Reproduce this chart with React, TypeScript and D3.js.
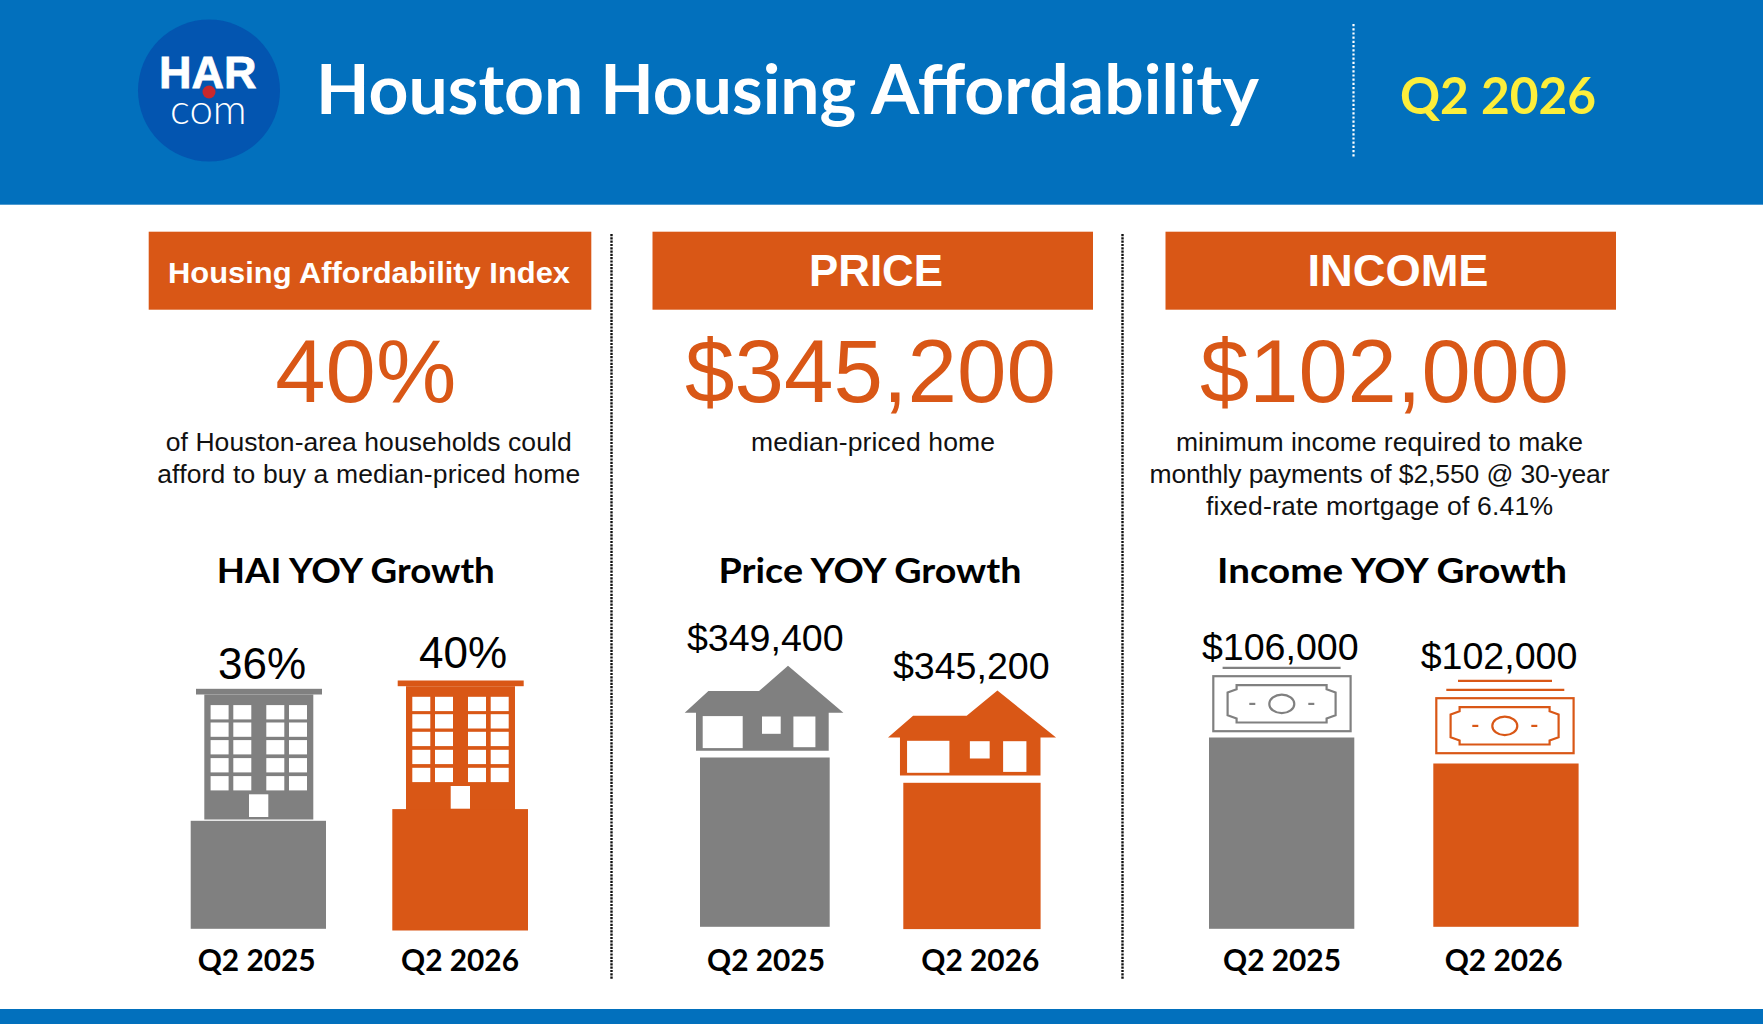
import React, { useEffect, useRef } from "react";
import * as d3 from "d3";

// values
const quarters = ["Q2 2025", "Q2 2026"];
const haiValues = [36, 40];
const priceValues = [349400, 345200];
const incomeValues = [106000, 102000];
const headlines = ["40%", "$345,200", "$102,000"];
const sectionHeads = ["Housing Affordability Index", "PRICE", "INCOME"];
const growthTitles = ["HAI YOY Growth", "Price YOY Growth", "Income YOY Growth"];
const blurbs = [
  ["of Houston-area households could", "afford to buy a median-priced home"],
  ["median-priced home"],
  [
    "minimum income required to make",
    "monthly payments of $2,550 @ 30-year",
    "fixed-rate mortgage of 6.41%",
  ],
];

const WIDTH = 1763;
const HEIGHT = 1024;
const BLUE = "#0270BD";
const ORANGE = "#D95716";
const GRAY = "#808080";
const barColors = [GRAY, ORANGE];
const SANS = "'Liberation Sans', Arial, sans-serif";
const GEO = "Lato, sans-serif";

type Sel = d3.Selection<any, unknown, null, undefined>;

const drawBuilding = (g: Sel, color: string) => {
  const width = 109;
  g.append("rect").attr("x", -8.3).attr("y", 0).attr("width", 126).attr("height", 5.7).attr("fill", color);
  g.append("rect").attr("x", 0).attr("y", 5.7).attr("width", width).attr("height", 125).attr("fill", color);
  [6.3, 29, 62, 84.7].forEach((x) =>
    [16.3, 33.7, 51.3, 69.3, 87.3].forEach((y) =>
      g.append("rect").attr("x", x).attr("y", y).attr("width", 18).attr("height", 14.3).attr("fill", "#fff")
    )
  );
  g.append("rect").attr("x", 44.7).attr("y", 105.5).attr("width", 19.3).attr("height", 22.7).attr("fill", "#fff");
};

const drawHouse = (g: Sel, color: string, sx: number) => {
  const outline: [number, number][] = [
    [0, 47], [23.7, 25.3], [74.3, 25.3], [103.3, 0], [158.7, 47], [144, 47], [144, 85], [11.3, 85], [11.3, 47],
  ];
  g.append("path")
    .attr("d", d3.line()(outline.map(([x, y]) => [x * sx, y] as [number, number])) + "Z")
    .attr("fill", color);
  [[18, 50.3, 40, 32], [77.3, 50.7, 18.7, 17.3], [108.7, 50.7, 22, 30.7]].forEach(([x, y, w, h]) =>
    g.append("rect").attr("x", x * sx).attr("y", y).attr("width", w * sx).attr("height", h).attr("fill", "#fff")
  );
};

const drawBill = (g: Sel, color: string, stack: number[][]) => {
  const sw = 2.2;
  g.append("rect").attr("width", 137.3).attr("height", 55).attr("fill", "none").attr("stroke", color).attr("stroke-width", sw);
  const inner: [number, number][] = [
    [23.3, 9], [113.3, 9], [113.3, 13], [122.3, 16.3], [122.3, 39], [113.3, 42.3], [113.3, 46.3],
    [23.3, 46.3], [23.3, 42.3], [14.3, 39], [14.3, 16.3], [23.3, 13],
  ];
  g.append("path").attr("d", d3.line()(inner) + "Z").attr("fill", "none").attr("stroke", color).attr("stroke-width", sw);
  g.append("ellipse").attr("cx", 68.5).attr("cy", 27.7).attr("rx", 12.5).attr("ry", 9.3).attr("fill", "none").attr("stroke", color).attr("stroke-width", sw);
  [36, 95].forEach((x) =>
    g.append("line").attr("x1", x).attr("x2", x + 6).attr("y1", 27.7).attr("y2", 27.7).attr("stroke", color).attr("stroke-width", sw)
  );
  stack.forEach(([x1, x2, y]) =>
    g.append("line").attr("x1", x1).attr("x2", x2).attr("y1", y).attr("y2", y).attr("stroke", color).attr("stroke-width", 2.2)
  );
};

const panels = [
  {
    values: haiValues,
    heights: [108, 121.4],
    fmt: (d: number) => `${d}%`,
    barX: [190.7, 392.3],
    barW: [135.3, 135.7],
    base: [928.8, 930.5],
    labelX: [262, 463],
    labelY: [678.5, 668],
    labelSize: 44,
    catX: [256.7, 460],
    icon: [
      (g: Sel) => drawBuilding(g.attr("transform", "translate(204.3,688.8)"), GRAY),
      (g: Sel) => drawBuilding(g.attr("transform", "translate(406,680.5)"), ORANGE),
    ],
  },
  {
    values: priceValues,
    heights: [169.3, 146.3],
    fmt: d3.format("$,"),
    barX: [700, 903.3],
    barW: [129.7, 137.3],
    base: [926.8, 929.1],
    labelX: [765.3, 971.3],
    labelY: [650.5, 679],
    labelSize: 37.6,
    catX: [766, 980.3],
    icon: [
      (g: Sel) => drawHouse(g.attr("transform", "translate(684.7,665.8)"), GRAY, 1),
      (g: Sel) => drawHouse(g.attr("transform", "translate(888,690.5)"), ORANGE, 1.059),
    ],
  },
  {
    values: incomeValues,
    heights: [191.3, 163.3],
    fmt: d3.format("$,"),
    barX: [1209, 1433.3],
    barW: [145.3, 145.3],
    base: [928.8, 926.8],
    labelX: [1280.3, 1499],
    labelY: [659.5, 669],
    labelSize: 37.6,
    catX: [1282, 1503.7],
    icon: [
      (g: Sel) => drawBill(g.attr("transform", "translate(1213.3,676.2)"), GRAY, [[9.3, 127.3, -8.3]]),
      (g: Sel) =>
        drawBill(g.attr("transform", "translate(1436.3,698.2)"), ORANGE, [
          [21.7, 115.7, -17.3],
          [10, 128, -8.3],
        ]),
    ],
  },
];

const headBoxes = [
  { x: 148.7, w: 442.6, textX: 369, textW: 402, size: 29, y: 283 },
  { x: 652.5, w: 440.5, textX: 876, textW: 134, size: 44, y: 285.5 },
  { x: 1165.5, w: 450.5, textX: 1398, textW: 181, size: 45, y: 285.5 },
];
const headlineX = [365.8, 870.5, 1384.5];
const headlineW = [181, 371, 369];
const blurbX = [368.7, 873, 1379.5];
const blurbY = [451, 483, 514.5];
const blurbW = [[406, 423], [244], [407, 460, 347]];
const growthX = [355.8, 870, 1392];
const growthW = [278, 303, 350];

const App: React.FC = () => {
  const ref = useRef<SVGSVGElement | null>(null);

  useEffect(() => {
    if (!ref.current) return;
    const svg = d3.select(ref.current);
    svg.selectAll("*").remove();

    svg.append("rect").attr("width", WIDTH).attr("height", HEIGHT).attr("fill", "#fff");

    // Header band
    svg.append("rect").attr("width", WIDTH).attr("height", 204.7).attr("fill", BLUE);
    svg.append("rect").attr("y", 1009).attr("width", WIDTH).attr("height", 15).attr("fill", BLUE);

    // Logo
    svg.append("circle").attr("cx", 209).attr("cy", 90.5).attr("r", 71).attr("fill", "#0355B0");
    const logo = svg.append("text").attr("fill", "#fff");
    logo.append("tspan").attr("x", 159).attr("y", 88)
      .style("font", `700 45px ${SANS}`).attr("stroke", "#fff").attr("stroke-width", 0.8).text("HAR");
    logo.append("tspan").attr("x", 170).attr("y", 124)
      .style("font", `300 42px ${GEO}`).text("com");
    svg.append("circle").attr("cx", 209).attr("cy", 92).attr("r", 6.5).attr("fill", "#C8282D");

    svg.append("text").attr("x", 316).attr("y", 114).attr("textLength", 943).attr("lengthAdjust", "spacingAndGlyphs")
      .style("font", `700 68px ${GEO}`).attr("fill", "#fff").text("Houston Housing Affordability");

    svg.append("line").attr("x1", 1353.5).attr("x2", 1353.5).attr("y1", 24).attr("y2", 157)
      .attr("stroke", "#fff").attr("stroke-width", 2.2).attr("stroke-dasharray", "2.2,2");
    svg.append("text").attr("x", 1400).attr("y", 114).attr("textLength", 196).attr("lengthAdjust", "spacingAndGlyphs")
      .style("font", `700 52px ${GEO}`).attr("fill", "#FDEE3B").text("Q2 2026");

    // Dotted column rules
    [611.5, 1122.5].forEach((x) =>
      svg.append("line").attr("x1", x).attr("x2", x).attr("y1", 234).attr("y2", 979)
        .attr("stroke", "#111").attr("stroke-width", 2.4).attr("stroke-dasharray", "2.2,1.1")
    );

    panels.forEach((p, i) => {
      const box = headBoxes[i];
      svg.append("rect").attr("x", box.x).attr("y", 231.7).attr("width", box.w).attr("height", 78).attr("fill", ORANGE);
      svg.append("text").attr("x", box.textX).attr("y", box.y).attr("text-anchor", "middle")
        .attr("textLength", box.textW).attr("lengthAdjust", "spacingAndGlyphs")
        .style("font", `700 ${box.size}px ${SANS}`).attr("fill", "#fff").text(sectionHeads[i]);

      svg.append("text").attr("x", headlineX[i]).attr("y", 401.7).attr("text-anchor", "middle")
        .attr("textLength", headlineW[i]).attr("lengthAdjust", "spacingAndGlyphs")
        .style("font", `400 89px ${SANS}`).attr("fill", ORANGE).text(headlines[i]);

      blurbs[i].forEach((line, j) =>
        svg.append("text").attr("x", blurbX[i]).attr("y", blurbY[j]).attr("text-anchor", "middle")
          .attr("textLength", blurbW[i][j]).attr("lengthAdjust", "spacing")
          .style("font", `400 26.5px ${SANS}`).attr("fill", "#111").text(line)
      );

      svg.append("text").attr("x", growthX[i]).attr("y", 582.5).attr("text-anchor", "middle")
        .attr("textLength", growthW[i]).attr("lengthAdjust", "spacingAndGlyphs")
        .style("font", `700 34px ${GEO}`).attr("fill", "#000").text(growthTitles[i]);

      // each panel has its own scale, bars in the picture do not share an axis
      const h = d3.scaleLinear().domain(p.values).range(p.heights);

      p.values.forEach((v, j) => {
        p.icon[j](svg.append("g"));
        svg.append("rect")
          .attr("x", p.barX[j])
          .attr("y", p.base[j] - h(v))
          .attr("width", p.barW[j])
          .attr("height", h(v))
          .attr("fill", barColors[j]);
        svg.append("text").attr("x", p.labelX[j]).attr("y", p.labelY[j]).attr("text-anchor", "middle")
          .style("font", `400 ${p.labelSize}px ${SANS}`).attr("fill", "#000").text(p.fmt(v));
        svg.append("text").attr("x", p.catX[j]).attr("y", 971).attr("text-anchor", "middle")
          .attr("textLength", 118).attr("lengthAdjust", "spacingAndGlyphs")
          .style("font", `700 30px ${GEO}`).attr("fill", "#000").text(quarters[j]);
      });
    });
  }, []);

  return (
    <svg
      ref={ref}
      width={WIDTH}
      height={HEIGHT}
      style={{ position: "absolute", left: 0, top: 0, display: "block" }}
    />
  );
};

export default App;
